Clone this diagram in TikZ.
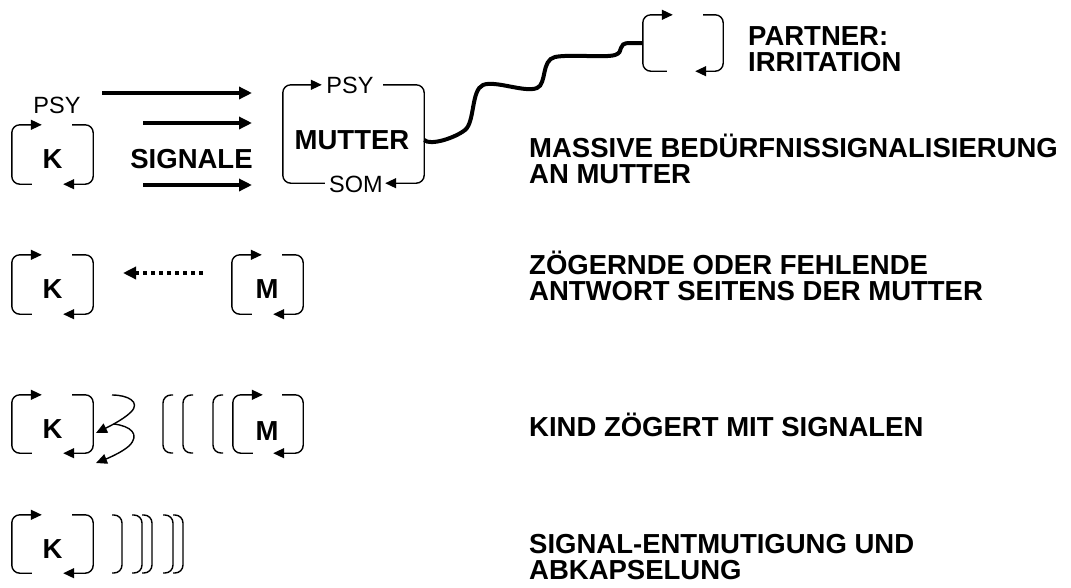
\documentclass[tikz,border=0pt]{standalone}
\usepackage{fontspec}
\setmainfont{Liberation Sans}
\usetikzlibrary{arrows.meta}
\newcommand\loopframe[1]{%
  \draw[frame,stip] ([xshift=20pt]#1.south west) -- (#1.south west) -- (#1.north west) -- ([xshift=30pt]#1.north west);
  \draw[frame,stip] ([xshift=-21pt]#1.north east) -- (#1.north east) -- (#1.south east) -- ([xshift=-30pt]#1.south east);
}
\tikzset{
  bigb/.style={inner sep=0pt,font=\fontsize{27.5pt}{26pt}\selectfont\bfseries},
  reg/.style={inner sep=0pt,font=\fontsize{23.5pt}{23.5pt}\selectfont},
  caption/.style={bigb,anchor=base west,align=left},
  frame/.style={line width=1.4pt,rounded corners=8pt},
  stip/.style={-{Triangle[length=11pt,width=10pt]}},
  sig/.style={line width=4pt,-{Triangle[length=13pt,width=12pt]}},
  area/.style={inner sep=0pt,minimum width=#1},
}
\begin{document}
\begin{tikzpicture}[x=1pt,y=-1pt]
\useasboundingbox (0,0) rectangle (1071,587);

% ---------- row 1 ----------
\node[area=81pt,minimum height=59pt] (k1) at (52.5,154.5) {};
\node[bigb] (k1t) at (52.5,159) {K};
\loopframe{k1}
\node[reg] (psy1) at (57,105) {PSY};

\coordinate (s1a) at (102,93);  \coordinate (s1b) at (252,93);
\coordinate (s2a) at (143,123); \coordinate (s2b) at (252,123);
\coordinate (s3a) at (143,185); \coordinate (s3b) at (252,185);
\draw[sig] (s1a) -- (s1b);
\draw[sig] (s2a) -- (s2b);
\draw[sig] (s3a) -- (s3b);
\node[bigb] (sig) at (191.5,159) {SIGNALE};

\node[area=141pt,minimum height=98pt] (mut) at (353.5,134) {};
\node[bigb] (mutt) at (352,140) {MUTTER};
\draw[frame,stip] ([xshift=42pt]mut.south west) -- (mut.south west) -- (mut.north west) -- ([xshift=39pt]mut.north west);
\draw[frame,stip] ([xshift=-41pt]mut.north east) -- (mut.north east) -- (mut.south east) -- ([xshift=-39pt]mut.south east);
\node[reg] (psy2) at (350,85) {PSY};
\node[reg] (som) at (356,184) {SOM};

\node[area=80pt,minimum height=56pt] (part) at (683,43) {};
\draw[frame,stip] ([xshift=24pt]part.south west) -- (part.south west) -- (part.north west) -- ([xshift=30pt]part.north west);
\draw[frame,stip] ([xshift=-20pt]part.north east) -- (part.north east) -- (part.south east) -- ([xshift=-28pt]part.south east);

\draw[line width=4pt] ([yshift=-6pt]mut.east)
  .. controls (430,146) and (455,138) .. (465,130)
  .. controls (475,122) and (471,90) .. (483,85)
  .. controls (495,80) and (525,93) .. (537,88)
  .. controls (547,84) and (541,60) .. (555,57)
  .. controls (570,54) and (605,58) .. (615,55)
  .. controls (625,52) and (616,43) .. (630,43)
  -- (part.west);

\node[caption] (pt) at (748,71) {PARTNER:\\IRRITATION};
\node[caption] (t1) at (529,183) {MASSIVE BEDÜRFNISSIGNALISIERUNG\\AN MUTTER};

% ---------- row 2 ----------
\node[area=81pt,minimum height=59pt] (k2) at (52.5,284.5) {};
\node[bigb] (k2t) at (52.5,289.5) {K};
\loopframe{k2}
\node[area=71pt,minimum height=59pt] (m2) at (267.5,284.5) {};
\node[bigb] (m2t) at (267,289.5) {M};
\loopframe{m2}
\coordinate (d1) at (203,273);
\coordinate (d2) at (123,273);
\draw[line width=4pt,dash pattern=on 4pt off 4pt,-{Triangle[length=13pt,width=12pt]}] (d1) -- (d2);
\node[caption] (t2) at (529,300) {ZÖGERNDE ODER FEHLENDE\\ANTWORT SEITENS DER MUTTER};

% ---------- row 3 ----------
\node[area=81pt,minimum height=58pt] (k3) at (52.5,424) {};
\node[bigb] (k3t) at (52.5,429.5) {K};
\loopframe{k3}
\coordinate (c1) at (112,395);
\coordinate (c2) at (114,424);
\coordinate (c1e) at (96,433);
\coordinate (c2e) at (96,463);
\draw[line width=1.4pt,stip] (c1) .. controls (128,395) and (141,402) .. (131,412) .. controls (123,420) and (106,428) .. (c1e);
\draw[line width=1.4pt,stip] (c2) .. controls (130,426) and (141,434) .. (129,446) .. controls (121,453) and (106,459) .. (c2e);
\foreach \bx in {163,183,213}
  \draw[frame] (\bx+10,395) -- (\bx,395) -- (\bx,453) -- (\bx+10,453);
\node[area=70pt,minimum height=58pt] (m3) at (268,424) {};
\node[bigb] (m3t) at (267,431) {M};
\loopframe{m3}
\node[caption] (t3) at (529,436) {KIND ZÖGERT MIT SIGNALEN};

% ---------- row 4 ----------
\node[area=81pt,minimum height=58pt] (k4) at (52.5,544) {};
\node[bigb] (k4t) at (52.5,549) {K};
\loopframe{k4}
\foreach \bx in {122,142,152,173,183}
  \draw[frame] (\bx-10,515) -- (\bx,515) -- (\bx,573) -- (\bx-10,573);
\node[caption] (t4) at (529,579) {SIGNAL-ENTMUTIGUNG UND\\ABKAPSELUNG};
\end{tikzpicture}
\end{document}
